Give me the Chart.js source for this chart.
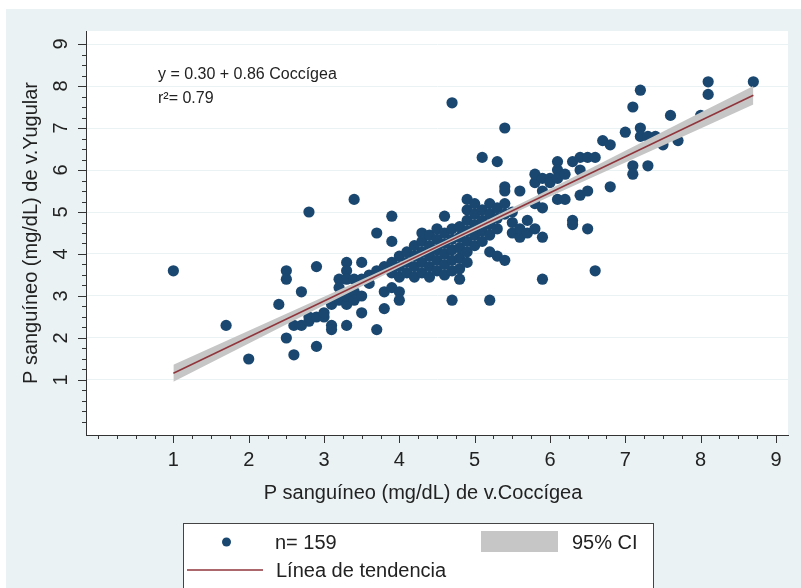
<!DOCTYPE html>
<html lang="es">
<head>
<meta charset="UTF-8">
<title>P sanguíneo: v.Coccígea vs v.Yugular</title>
<script src="https://cdn.jsdelivr.net/npm/chart.js@4"></script>
<style>
  html, body { margin: 0; padding: 0; background: #fff; }
  #wrap { width: 801px; height: 588px; }
</style>
</head>
<body>
<div id="wrap"><canvas id="chart" width="801" height="588"></canvas></div>
<script>
// P sanguineo (mg/dL), one pair per sample, grouped roughly by coccygeal value
const coccigea = [
  1.0, 1.7, 2.0, 2.4, 2.5, 2.5, 2.5,
  2.6, 2.6, 2.7, 2.7, 2.8, 2.8, 2.8,
  2.9, 2.9, 2.9, 3.0, 3.0, 3.1, 3.1, 3.1,
  3.2, 3.2, 3.2, 3.3, 3.3, 3.3, 3.3, 3.3, 3.3,
  3.4, 3.4, 3.4, 3.4, 3.5, 3.5, 3.5, 3.5, 3.6, 3.6,
  3.7, 3.7, 3.7, 3.8, 3.8, 3.8,
  3.9, 3.9, 3.9, 3.9, 3.9,
  4.0, 4.0, 4.0, 4.0, 4.0,
  4.1, 4.1, 4.1,
  4.2, 4.2, 4.2, 4.2,
  4.3, 4.3, 4.3, 4.3, 4.3,
  4.4, 4.4, 4.4, 4.4, 4.4,
  4.5, 4.5, 4.5, 4.5, 4.5,
  4.6, 4.6, 4.6, 4.6, 4.6, 4.6,
  4.7, 4.7, 4.7, 4.7, 4.7, 4.7, 4.7,
  4.8, 4.8, 4.8, 4.8, 4.8, 4.8,
  4.9, 4.9, 4.9, 4.9, 4.9, 4.9, 4.9,
  5.0, 5.0, 5.0, 5.0, 5.0,
  5.1, 5.1, 5.1, 5.1, 5.1,
  5.2, 5.2, 5.2, 5.2, 5.2, 5.2,
  5.3, 5.3, 5.3, 5.3, 5.3,
  5.4, 5.4, 5.4, 5.4, 5.4, 5.4,
  5.5, 5.5, 5.5, 5.6, 5.6, 5.6, 5.7, 5.7,
  5.8, 5.8, 5.8, 5.8, 5.9, 5.9, 5.9, 5.9, 5.9,
  6.0, 6.0, 6.1, 6.1, 6.1, 6.1, 6.2, 6.2,
  6.3, 6.3, 6.3, 6.4, 6.4, 6.4, 6.5, 6.5, 6.5,
  6.6, 6.6, 6.7, 6.8, 6.8, 7.0,
  7.1, 7.1, 7.1, 7.2, 7.2, 7.2, 7.3, 7.3,
  7.4, 7.5, 7.6, 7.7, 8.0, 8.1, 8.1, 8.7
];
const yugular = [
  3.6, 2.3, 1.5, 2.8, 3.6, 3.4, 2.0,
  1.6, 2.3, 2.3, 3.1, 5.0, 2.4, 2.5,
  1.8, 3.7, 2.5, 2.5, 2.6, 2.3, 2.2, 2.8,
  2.9, 3.4, 3.2, 2.3, 2.8, 3.0, 3.8, 3.6, 3.4,
  5.3, 3.4, 3.1, 2.9, 2.6, 3.8, 3.4, 3.0, 3.3, 3.5,
  2.2, 4.5, 3.6, 2.7, 3.7, 3.1,
  4.9, 4.3, 3.8, 3.2, 3.55,
  3.1, 2.9, 3.45, 3.7, 3.95,
  3.55, 3.8, 4.05,
  3.45, 3.7, 3.95, 4.2,
  3.55, 3.8, 4.05, 4.3, 4.5,
  3.45, 3.7, 3.95, 4.2, 4.45,
  3.6, 3.85, 4.1, 4.35, 4.6,
  3.5, 3.75, 4.0, 4.25, 4.5, 4.9,
  2.9, 3.6, 3.85, 4.1, 4.35, 4.6, 7.6,
  3.4, 3.65, 3.9, 4.15, 4.4, 4.65,
  3.8, 4.05, 4.3, 4.55, 4.8, 5.05, 5.3,
  4.2, 4.45, 4.7, 4.95, 5.2,
  4.3, 4.55, 4.8, 5.05, 6.3,
  2.9, 4.05, 4.45, 4.7, 4.95, 5.2,
  3.95, 4.6, 4.85, 5.1, 6.2,
  3.85, 4.95, 5.2, 5.5, 5.6, 7.0,
  4.5, 5.0, 4.75, 4.4, 5.5, 4.6, 4.8, 4.5,
  4.6, 5.2, 5.7, 5.9, 5.1, 4.4, 3.4, 5.5, 5.8,
  5.8, 5.7, 6.2, 6.0, 5.3, 5.8, 5.3, 5.9,
  4.8, 4.7, 6.2, 6.3, 6.0, 5.4, 6.3, 5.5, 4.6,
  6.3, 3.6, 6.7, 6.6, 5.6, 6.9,
  7.5, 6.1, 5.9, 7.9, 7.0, 6.8, 6.8, 6.1,
  6.8, 6.6, 7.3, 6.7, 7.3, 8.1, 7.8, 8.1
];

// fitted line y = 0.30 + 0.86 x and its 95% CI
const fitX = [1.0, 8.7];
const fitY = [1.16, 7.78];
const ciX    = [1.0, 2.0, 3.0, 4.0, 4.6, 5.0, 6.0, 7.0, 8.0, 8.7];
const ciLow  = [0.96, 1.87, 2.78, 3.68, 4.21, 4.54, 5.37, 6.18, 6.99, 7.56];
const ciHigh = [1.36, 2.17, 2.98, 3.80, 4.31, 4.66, 5.55, 6.46, 7.37, 8.00];

const xTicks = [1, 2, 3, 4, 5, 6, 7, 8, 9];
const yTicks = [1, 2, 3, 4, 5, 6, 7, 8, 9];

const xTitle = 'P sanguíneo (mg/dL) de v.Coccígea';
const yTitle = 'P sanguíneo (mg/dL) de v.Yugular';
const fitText = ['y = 0.30 + 0.86 Coccígea', 'r\u00b2= 0.79'];
const legendLabels = ['n= 159', '95% CI', 'Línea de tendencia'];

const NAVY = '#1a476f';
const MAROON = '#90353b';
const BAND = '#c6c6c6';
const BG = '#eaf2f3';
const FONT = '"Liberation Sans", Arial, sans-serif';

Chart.defaults.font.family = FONT;
Chart.defaults.color = '#222';

const toXY = (xs, ys) => xs.map((v, i) => ({x: v, y: ys[i]}));

// Stata-like frame, minor ticks, fit text and legend box
const stataBits = {
  id: 'stataBits',
  beforeDraw(chart) {
    const {ctx, chartArea: a} = chart;
    ctx.save();
    ctx.fillStyle = '#fff';
    ctx.fillRect(0, 0, chart.width, chart.height);
    ctx.fillStyle = BG;
    ctx.fillRect(6, 9, chart.width - 6, chart.height - 9);
    ctx.fillStyle = '#fff';
    ctx.fillRect(a.left, a.top, a.right - a.left, a.bottom - a.top);
    ctx.restore();
  },
  afterDraw(chart) {
    const {ctx, chartArea: a, scales: {x, y}} = chart;
    ctx.save();
    // ticks every 0.25, longer on labelled values
    ctx.strokeStyle = '#333';
    ctx.lineWidth = 1;
    ctx.beginPath();
    for (let v = 0; v <= 9; v += 0.25) {
      const len = (Number.isInteger(v) && v >= 1) ? 8 : 4;
      const px = Math.round(x.getPixelForValue(v)) + 0.5;
      ctx.moveTo(px, a.bottom);
      ctx.lineTo(px, a.bottom + len);
      const py = Math.round(y.getPixelForValue(v)) + 0.5;
      ctx.moveTo(a.left, py);
      ctx.lineTo(a.left - len, py);
    }
    ctx.stroke();

    // x axis title
    ctx.fillStyle = '#222';
    ctx.font = '20px ' + FONT;
    ctx.textAlign = 'center';
    ctx.textBaseline = 'middle';
    ctx.fillText(xTitle, 423, 493);

    // regression text
    ctx.font = '16px ' + FONT;
    ctx.textAlign = 'left';
    ctx.textBaseline = 'alphabetic';
    ctx.fillText(fitText[0], 158, 79);
    ctx.fillText(fitText[1], 158, 103);

    // legend
    ctx.fillStyle = '#fff';
    ctx.fillRect(183, 523, 470, 70);
    ctx.strokeStyle = '#444';
    ctx.strokeRect(183.5, 523.5, 470, 70);

    ctx.fillStyle = NAVY;
    ctx.beginPath();
    ctx.arc(226.5, 542, 4.5, 0, Math.PI * 2);
    ctx.fill();

    ctx.fillStyle = BAND;
    ctx.fillRect(481, 531, 77, 21);

    ctx.strokeStyle = MAROON;
    ctx.lineWidth = 1.5;
    ctx.beginPath();
    ctx.moveTo(187, 570);
    ctx.lineTo(263, 570);
    ctx.stroke();

    ctx.fillStyle = '#222';
    ctx.font = '20px ' + FONT;
    ctx.textBaseline = 'middle';
    ctx.fillText(legendLabels[0], 275, 543);
    ctx.fillText(legendLabels[1], 572, 543);
    ctx.fillText(legendLabels[2], 276, 571);
    ctx.restore();
  }
};

new Chart(document.getElementById('chart'), {
  type: 'line',
  data: {
    datasets: [{
      label: legendLabels[2],
      data: toXY(fitX, fitY),
      borderColor: MAROON,
      borderWidth: 1.5,
      pointRadius: 0,
      fill: false,
      order: 0
    }, {
      label: 'ci-low',
      data: toXY(ciX, ciLow),
      borderWidth: 0,
      borderColor: 'rgba(0,0,0,0)',
      pointRadius: 0,
      fill: false,
      order: 2
    }, {
      label: legendLabels[1],
      data: toXY(ciX, ciHigh),
      borderWidth: 0,
      borderColor: 'rgba(0,0,0,0)',
      backgroundColor: BAND,
      pointRadius: 0,
      fill: '-1',
      order: 1
    }, {
      label: legendLabels[0],
      data: toXY(coccigea, yugular),
      showLine: false,
      pointRadius: 5.6,
      pointBorderWidth: 0,
      pointBackgroundColor: NAVY,
      pointBorderColor: NAVY,
      order: 3
    }]
  },
  options: {
    responsive: false,
    devicePixelRatio: 1,
    animation: false,
    events: [],
    layout: { padding: { left: 6, top: 30, right: 13, bottom: 0 } },
    plugins: {
      legend: { display: false },
      tooltip: { enabled: false }
    },
    scales: {
      x: {
        type: 'linear',
        min: -0.16,
        max: 9.16,
        afterBuildTicks: s => { s.ticks = xTicks.map(v => ({value: v})); },
        afterFit: s => { s.height = 153; },
        ticks: {
          autoSkip: false,
          maxRotation: 0,
          padding: 13,
          font: { size: 20 },
          color: '#222'
        },
        grid: { display: false, drawTicks: false },
        border: { display: true, color: '#333', width: 1 }
      },
      y: {
        type: 'linear',
        min: -0.31,
        max: 9.31,
        afterBuildTicks: s => { s.ticks = yTicks.map(v => ({value: v})); },
        afterFit: s => { s.width = 80; },
        ticks: {
          autoSkip: false,
          minRotation: 90,
          maxRotation: 90,
          crossAlign: 'center',
          padding: 19,
          font: { size: 20 },
          color: '#222'
        },
        grid: { color: BG, lineWidth: 1, drawTicks: false },
        border: { display: true, color: '#333', width: 1 },
        title: {
          display: true,
          text: yTitle,
          font: { size: 20 },
          color: '#222',
          padding: { top: 13, bottom: 0 }
        }
      }
    }
  },
  plugins: [stataBits]
});
</script>
</body>
</html>
